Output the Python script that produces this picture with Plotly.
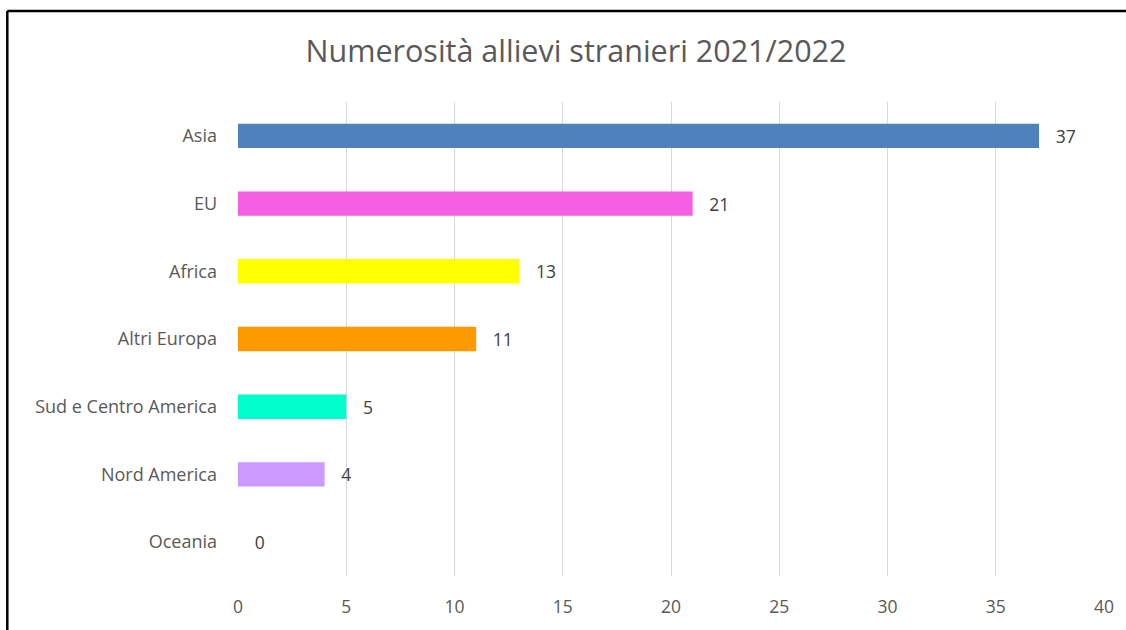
import plotly.graph_objects as go

categories = ["Asia", "EU", "Africa", "Altri Europa", "Sud e Centro America", "Nord America", "Oceania"]
values = [37, 21, 13, 11, 5, 4, 0]
colors = ["#4F81BD", "#F55FE3", "#FFFF00", "#FF9900", "#00FFCC", "#CC99FF", "#A9A9A9"]
title_text = "Numerosità allievi stranieri 2021/2022"

FONT = "Open Sans, Liberation Sans, sans-serif"
GRAY = "#595959"
PAD = "\u00a0\u00a0\u00a0"

fig = go.Figure(go.Bar(
    x=values, y=categories, orientation="h",
    marker=dict(color=colors, line=dict(width=0)),
    width=0.36,
    text=[PAD + str(v) for v in values], textposition="outside",
    textfont=dict(family=FONT, size=17.5, color="#404040"),
    cliponaxis=False,
))

fig.update_layout(
    width=1126, height=630,
    paper_bgcolor="white", plot_bgcolor="white",
    margin=dict(l=238, r=19, t=102, b=51),
    title=dict(text=title_text, x=576/1126, xref="container", xanchor="center",
               y=1 - 51/630, yref="container", yanchor="middle",
               font=dict(family=FONT, size=30.5, color=GRAY)),
    showlegend=False,
    font=dict(family=FONT),
    xaxis=dict(range=[0, 40], dtick=5, showgrid=True, gridcolor="#D9D9D9", gridwidth=1,
               zeroline=False, showline=False, ticks="",
               tickfont=dict(family=FONT, size=17.5, color=GRAY), ticklabelstandoff=18),
    yaxis=dict(autorange="reversed", showgrid=False, zeroline=False, showline=False, ticks="",
               tickfont=dict(family=FONT, size=18, color=GRAY), ticklabelstandoff=20),
    bargap=0.64,
    shapes=[
        dict(type="line", xref="paper", yref="paper", x0=(6.5-238)/869, x1=1.1,
             y0=1 + (102-10.5)/477, y1=1 + (102-10.5)/477, line=dict(color="black", width=2.5)),
        dict(type="line", xref="paper", yref="paper", x0=(6.5-238)/869, x1=(6.5-238)/869,
             y0=1 + (102-10.5)/477, y1=-0.2, line=dict(color="black", width=2.5)),
    ],
)

fig.write_html("out.html", config={"displayModeBar": False},
               post_script="document.body.style.margin='0';document.body.style.overflow='hidden';")
